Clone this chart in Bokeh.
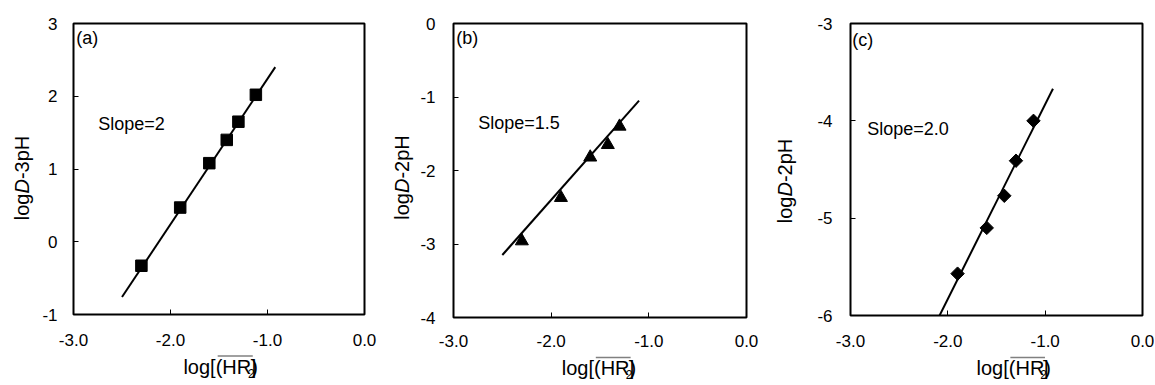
import numpy as np
from bokeh.plotting import figure
from bokeh.layouts import row, column
from bokeh.models import Range1d, FixedTicker, Label
from bokeh.embed import file_html
from bokeh.resources import INLINE

# ---------------- data ----------------
x_ticks = [-3, -2, -1, 0]
x_tick_labels = ["-3.0", "-2.0", "-1.0", "0.0"]

a_x = [-2.3, -1.9, -1.6, -1.42, -1.3, -1.12]
a_y = [-0.33, 0.47, 1.08, 1.40, 1.65, 2.02]
a_slope, a_intercept, a_line_from, a_line_to = 2.0, 4.24, -2.5, -0.92
a_y_ticks = [-1, 0, 1, 2, 3]

b_x = [-2.3, -1.9, -1.6, -1.42, -1.3]
b_y = [-2.96, -2.37, -1.82, -1.65, -1.40]
b_slope, b_intercept, b_line_from, b_line_to = 1.5, 0.6, -2.5, -1.1
b_y_ticks = [-4, -3, -2, -1, 0]

c_x = [-1.9, -1.6, -1.42, -1.3, -1.12]
c_y = [-5.57, -5.10, -4.77, -4.41, -4.00]
c_slope, c_intercept, c_line_from, c_line_to = 2.0, -1.83, -2.085, -0.92
c_y_ticks = [-6, -5, -4, -3]

panel_letters = ["(a)", "(b)", "(c)"]
slope_texts = ["Slope=2", "Slope=1.5", "Slope=2.0"]
y_title_tails = ["-3pH", "-2pH", "-2pH"]

FONT = "Liberation Sans"
TOTAL_H = 380
MAIN_H = 354
XT_H = TOTAL_H - MAIN_H
TOP = 23
K = 0.4   # observed offset of rendered label text (right and down), in em

# approximate Arial advance widths (em)
ADV = {"l": .222, "o": .556, "g": .556, "[": .278, "(": .333, "H": .722, "R": .722,
       ")": .333, "]": .278, "2": .556, "3": .556, "D": .722, "-": .333, "p": .556}


def tw(s, size):
    return sum(ADV[c] for c in s) * size


def canvas(w, h):
    f = figure(width=w, height=h, x_range=Range1d(0, w), y_range=Range1d(0, h),
               x_axis_type=None, y_axis_type=None, output_backend="svg",
               toolbar_location=None, min_border=0)
    f.outline_line_color = None
    f.background_fill_color = "white"
    f.border_fill_color = "white"
    return f


def make_panel(xs, ys, slope, intercept, lfrom, lto, yticks, marker, msize, mangle,
               letter, slope_text, tail, lay):
    ylo, yhi = yticks[0], yticks[-1]
    fw, fh = lay["fw"], lay["fh"]
    w = lay["l"] + fw + lay["r"]
    p = figure(width=w, height=MAIN_H,
               x_range=Range1d(-3, 0), y_range=Range1d(ylo, yhi),
               output_backend="svg", toolbar_location=None,
               min_border_left=lay["l"], min_border_right=lay["r"],
               min_border_top=TOP, min_border_bottom=MAIN_H - TOP - fh)
    p.background_fill_color = "white"
    p.border_fill_color = "white"
    p.outline_line_color = "black"
    p.outline_line_width = 2
    p.grid.grid_line_color = None

    for ax in (p.xaxis[0], p.yaxis[0]):
        ax.axis_line_color = None
        ax.major_tick_in = 5
        ax.major_tick_out = 0
        ax.major_tick_line_color = "black"
        ax.major_tick_line_width = 1
        ax.minor_tick_line_color = None
        ax.major_label_text_font = FONT
        ax.major_label_text_font_size = "17px"
        ax.major_label_text_color = "black"
        ax.axis_label = None
    p.xaxis.ticker = FixedTicker(ticks=x_ticks)
    p.xaxis.major_label_overrides = {t: s for t, s in zip(x_ticks, x_tick_labels)}
    p.xaxis.major_label_standoff = lay["xs"]
    p.yaxis.ticker = FixedTicker(ticks=yticks)
    p.yaxis.major_label_overrides = {t: str(t) for t in yticks}
    p.yaxis.major_label_standoff = lay["ys"]

    # fitted line
    lx = np.array([lfrom, lto])
    p.line(lx, slope * lx + intercept, line_color="black", line_width=2)
    # points
    p.scatter(xs, ys, marker=marker, size=msize, angle=mangle,
              fill_color="black", line_color="black")

    # panel letter and slope text (offsets from the frame's top-left corner)
    ls = 18
    p.add_layout(Label(x=-3, y=yhi, x_offset=lay["lx"] - K * ls,
                       y_offset=-(lay["ly"] - K * ls), text=letter, text_font=FONT,
                       text_font_size=f"{ls}px", text_color="black",
                       text_baseline="alphabetic"))
    p.add_layout(Label(x=-3, y=yhi, x_offset=lay["sx"] - K * ls,
                       y_offset=-(lay["sy"] - K * ls), text=slope_text, text_font=FONT,
                       text_font_size=f"{ls}px", text_color="black",
                       text_baseline="alphabetic"))

    ts = 20
    # ---- y-axis title: log D-xpH, D italic, rotated (own small canvas) ----
    yt = canvas(lay["ytw"], TOTAL_H)
    parts = [("log", "normal"), ("D", "italic"), (tail, "normal")]
    total = sum(tw(s, ts) for s, _ in parts)
    pos = TOTAL_H - (lay["tyc"] + total / 2.0)
    for s, st in parts:
        yt.add_layout(Label(x=lay["tyb"] - K * ts, y=pos - K * ts, text=s, angle=np.pi / 2,
                            text_font=FONT, text_font_size=f"{ts}px", text_color="black",
                            text_font_style=st, text_align="left",
                            text_baseline="alphabetic"))
        pos += tw(s, ts)

    # ---- x-axis title: log[(HR)2] with overline on (HR) ----
    xt = canvas(w, XT_H)
    sub = 12
    main = "log[(HR)"
    total = tw(main, ts) + tw("2", sub) + tw("]", ts)
    start = lay["l"] + fw / 2.0 + lay["txc"] - total / 2.0
    base = TOTAL_H - lay["txb"]  # rendered baseline height above the canvas bottom
    xt.add_layout(Label(x=start - K * ts, y=base + K * ts, text=main, text_font=FONT,
                        text_font_size=f"{ts}px", text_color="black",
                        text_baseline="alphabetic"))
    xt.add_layout(Label(x=start + tw(main, ts) - K * sub, y=base - 4 + K * sub, text="2",
                        text_font=FONT, text_font_size=f"{sub}px", text_color="black",
                        text_baseline="alphabetic"))
    xt.add_layout(Label(x=start + tw(main, ts) + tw("2", sub) - K * ts, y=base + K * ts,
                        text="]", text_font=FONT, text_font_size=f"{ts}px",
                        text_color="black", text_baseline="alphabetic"))
    o0 = start + tw("log[", ts) + 1
    o1 = start + tw(main, ts) + 1
    oy = TOTAL_H - lay["oly"]
    xt.segment(x0=[o0], y0=[oy], x1=[o1], y1=[oy], line_color="#808080", line_width=1.5)

    return row(yt, column(p, xt))


# layout values in page pixels: tyc = title centre (y), tyb = title baseline in its canvas,
# txb = x-title baseline (y), oly = overline (y)
lay_a = dict(ytw=34, l=39, fw=291, r=20, fh=291, xs=19, ys=16,
             lx=10, ly=21.6, sx=32, sy=107.7, tyb=29, tyc=169.5, txc=-1, txb=374, oly=355.5)
lay_b = dict(ytw=31, l=38, fw=293, r=24, fh=294, xs=17, ys=18,
             lx=10, ly=21.6, sx=32, sy=106.3, tyb=25, tyc=169, txc=-2, txb=375, oly=357)
lay_c = dict(ytw=28, l=52, fw=292, r=12, fh=292, xs=19, ys=18,
             lx=9, ly=23.3, sx=24, sy=112.3, tyb=22.5, tyc=172.5, txc=7, txb=375, oly=357)

pa = make_panel(a_x, a_y, a_slope, a_intercept, a_line_from, a_line_to, a_y_ticks,
                "square", 11.5, 0, panel_letters[0], slope_texts[0], y_title_tails[0], lay_a)
pb = make_panel(b_x, b_y, b_slope, b_intercept, b_line_from, b_line_to, b_y_ticks,
                "triangle", 13, 0, panel_letters[1], slope_texts[1], y_title_tails[1], lay_b)
pc = make_panel(c_x, c_y, c_slope, c_intercept, c_line_from, c_line_to, c_y_ticks,
                "square", 9.5, np.pi / 4, panel_letters[2], slope_texts[2], y_title_tails[2], lay_c)

layout = row(pa, pb, pc)
open("out.html", "w").write(file_html(layout, INLINE))
